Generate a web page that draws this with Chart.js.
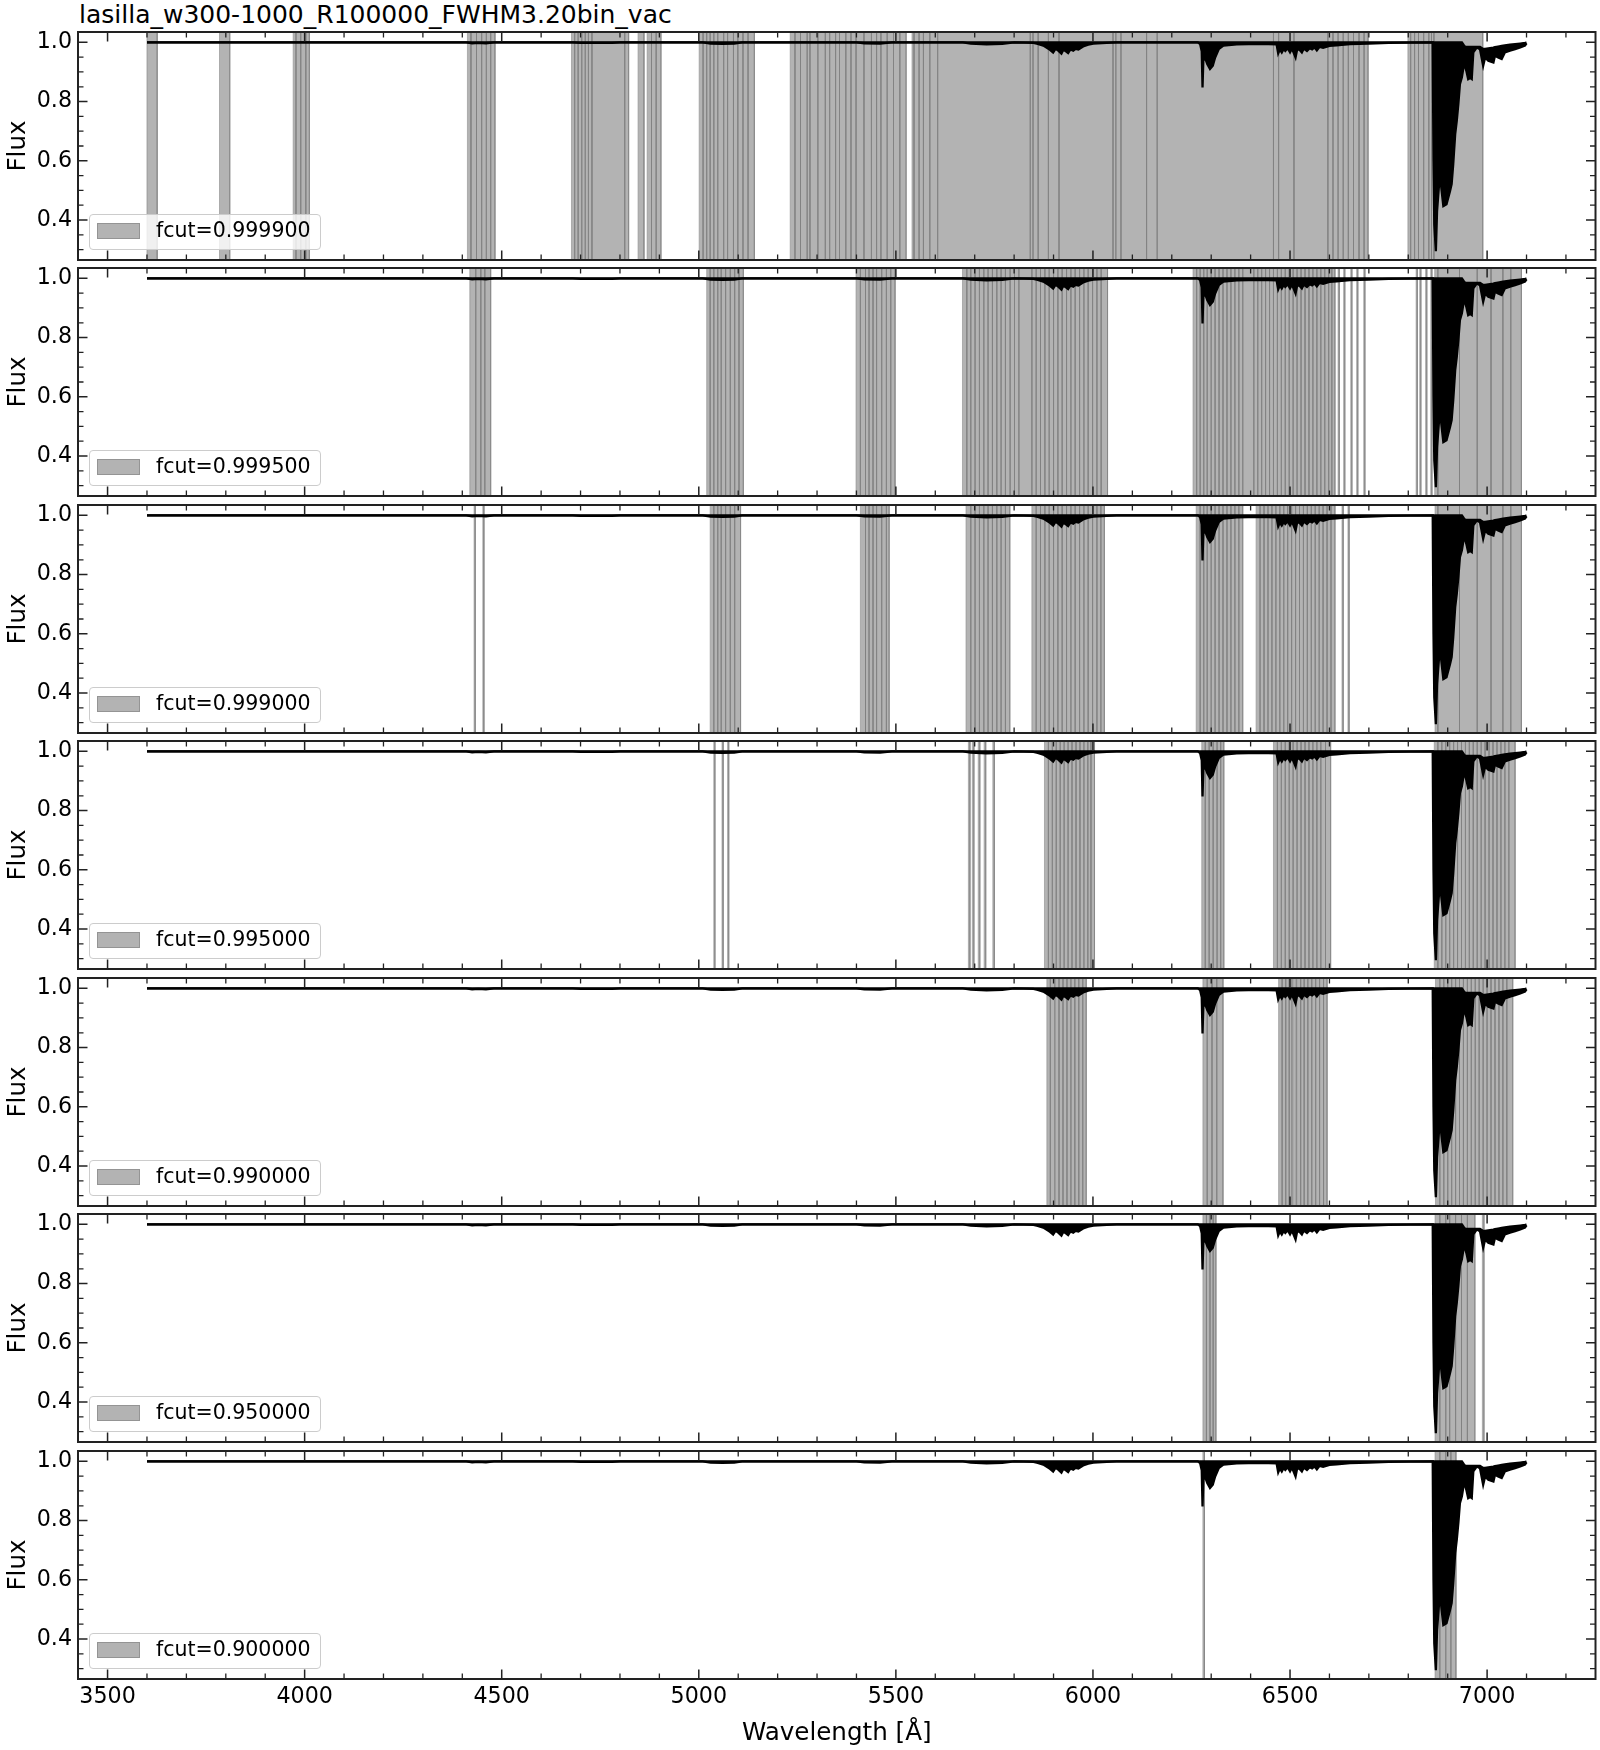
<!DOCTYPE html>
<html><head><meta charset="utf-8">
<script src="https://cdn.jsdelivr.net/npm/chart.js@4.4.0/dist/chart.umd.min.js"></script>
<style>
html,body{margin:0;padding:0;background:#fff;}
#wrap{position:relative;width:1600px;height:1750px;overflow:hidden;font-family:'DejaVu Sans',sans-serif;}
canvas{position:absolute;left:0;}
.title{position:absolute;left:79px;top:2px;font-size:25px;line-height:25px;color:#000;white-space:nowrap;}
.legend{position:absolute;left:89px;width:232px;height:36px;box-sizing:border-box;border:1px solid #cccccc;border-radius:4px;background:rgba(255,255,255,0.8);}
.legend .patch{position:absolute;left:7px;top:7.5px;width:43px;height:16px;box-sizing:border-box;background:rgba(128,128,128,0.6);border:1px solid rgba(128,128,128,0.6);}
.legend .lab{position:absolute;left:66px;top:-2px;height:34px;line-height:34px;font-size:20.5px;color:#000;white-space:nowrap;}
</style></head><body><div id="wrap"><div class="title">lasilla_w300-1000_R100000_FWHM3.20bin_vac</div></div>
<script>
// ---------------- data ----------------
const xMin = 3425, xMax = 7275, yMin = 0.265, yMax = 1.035;
const xTickLabels = [3500, 4000, 4500, 5000, 5500, 6000, 6500, 7000];
const yTickLabels = [0.4, 0.6, 0.8, 1.0];
const fcutLabels = ['fcut=0.999900','fcut=0.999500','fcut=0.999000','fcut=0.995000','fcut=0.990000','fcut=0.950000','fcut=0.900000'];

// telluric spectrum: wavelength [Å], lower envelope, upper envelope of the flux
const specWave = [3600,4410,4425,4440,4460,4480,4680,4700,4740,4780,4800,5010,5030,5060,5090,5110,5400,5420,5460,5490,5670,5690,5730,5770,5800,5849,5860,5874,5885,5891,5899,5905,5912,5920,5925,5929,5937,5943,5950,5956,5963,5975,5988,6001,6035,6060,6266,6272,6276,6278,6280,6284,6290,6297,6304,6310,6319,6331,6365,6424,6466,6470,6474,6479,6484,6488,6494,6500,6505,6514,6518,6524,6530,6535,6543,6550,6556,6562,6568,6575,6584,6600,6618,6652,6700,6750,6862,6864,6866,6870,6873,6880,6889,6897,6906,6910,6914,6919,6923,6927,6931,6936,6940,6944,6948,6952,6957,6961,6965,6974,6982,6990,6995,7003,7016,7020,7028,7037,7045,7058,7071,7084,7096,7100];
const specLow  = [1.0,1.0,0.997,0.998,0.997,1.0,1.0,0.998,0.998,0.998,1.0,1.0,0.996,0.995,0.996,1.0,1.0,0.997,0.996,1.0,1.0,0.996,0.993,0.995,1.0,0.998,0.995,0.989,0.98,0.975,0.966,0.978,0.972,0.962,0.975,0.972,0.964,0.976,0.972,0.978,0.976,0.986,0.992,0.996,0.998,1.0,1.0,0.994,0.97,0.848,0.938,0.949,0.927,0.91,0.921,0.949,0.977,0.989,0.993,0.995,0.993,0.963,0.976,0.966,0.978,0.971,0.98,0.966,0.979,0.949,0.976,0.975,0.966,0.979,0.971,0.98,0.976,0.983,0.973,0.985,0.982,0.988,0.99,0.994,0.996,0.998,1.0,0.6,0.385,0.295,0.43,0.554,0.447,0.453,0.498,0.521,0.588,0.69,0.735,0.791,0.859,0.882,0.915,0.921,0.9,0.876,0.88,0.876,0.966,0.983,0.977,0.921,0.949,0.938,0.932,0.955,0.949,0.944,0.966,0.972,0.977,0.983,0.989,0.997];
const specHigh = [1.0,1.0,1.0,1.0,1.0,1.0,1.0,1.0,1.0,1.0,1.0,1.0,1.0,1.0,1.0,1.0,1.0,1.0,1.0,1.0,1.0,1.0,1.0,1.0,1.0,1.0,1.0,1.0,1.0,1.0,1.0,1.0,1.0,1.0,1.0,1.0,1.0,1.0,1.0,1.0,1.0,1.0,1.0,1.0,1.0,1.0,1.0,1.0,1.0,1.0,1.0,1.0,1.0,1.0,1.0,1.0,1.0,1.0,1.0,1.0,1.0,1.0,1.0,1.0,1.0,1.0,1.0,1.0,1.0,1.0,1.0,1.0,1.0,1.0,1.0,1.0,1.0,1.0,1.0,1.0,1.0,1.0,1.0,1.0,1.0,1.0,1.0,1.0,1.0,1.0,1.0,1.0,1.0,1.0,1.0,1.0,1.0,1.0,1.0,1.0,1.0,1.0,0.992,0.985,0.985,0.985,0.985,0.985,0.985,0.985,0.985,0.978,0.978,0.98,0.982,0.984,0.986,0.988,0.99,0.992,0.994,0.996,0.998,0.999];

// masked wavelength intervals [start, end] for each flux cut
const spans_0999900 = [[3600,3626],[3784,3810],[3971,3978],[3978,3990],[3990,4003],[4003,4012],
 [4413,4422],[4422,4436],[4436,4449],[4449,4461],[4461,4472],[4472,4483],
 [4677,4685],[4685,4694],[4694,4703],[4703,4712],[4712,4720],[4720,4729],[4729,4812],[4812,4822],
 [4846,4861],[4869,4880],[4880,4892],[4892,4904],
 [5001,5011],[5011,5020],[5020,5029],[5029,5038],[5038,5048],[5048,5063],[5063,5073],[5073,5088],[5088,5099],[5099,5112],[5112,5125],[5125,5141],
 [5232,5244],[5244,5258],[5258,5275],[5275,5282],[5282,5302],[5302,5321],[5321,5332],[5332,5347],[5347,5357],[5357,5373],[5373,5386],[5386,5399],[5399,5419],[5419,5438],[5438,5451],[5451,5462],[5462,5478],[5478,5494],[5494,5510],[5510,5526],
 [5541,5546],[5546,5559],[5559,5570],[5570,5586],[5586,5606],[5606,5841],[5841,5848],[5848,5861],[5861,5887],[5887,5914],[5914,6051],[6051,6058],[6058,6071],[6071,6136],[6136,6163],[6163,6458],[6458,6471],[6471,6510],[6510,6596],[6596,6609],[6609,6622],[6622,6635],[6635,6648],[6648,6661],[6661,6675],[6675,6688],[6688,6698],
 [6799,6806],[6806,6816],[6816,6826],[6826,6839],[6839,6852],[6852,6859],[6859,6865],[6865,6989]];
const spans_0999500 = [[4419,4434],[4434,4447],[4447,4457],[4457,4472],
 [5020,5029],[5029,5038],[5038,5048],[5048,5057],[5057,5068],[5068,5080],[5080,5091],[5091,5102],[5102,5113],
 [5399,5410],[5410,5423],[5423,5432],[5432,5442],[5442,5451],[5451,5464],[5464,5476],[5476,5487],[5487,5498],
 [5669,5680],[5680,5690],[5690,5701],[5701,5712],[5712,5723],[5723,5734],[5734,5745],[5745,5756],[5756,5767],[5767,5778],[5778,5790],[5790,5801],[5801,5812],[5812,5845],
 [5845,5856],[5856,5867],[5867,5878],[5878,5889],[5889,5900],[5900,5911],[5911,5922],[5922,5933],[5933,5944],[5944,5955],[5955,5966],[5966,5977],[5977,5988],[5988,5999],[5999,6010],[6010,6021],[6021,6037],
 [6254,6263],[6263,6272],[6272,6281],[6281,6290],[6290,6300],[6300,6310],[6310,6320],[6320,6330],[6330,6340],[6340,6350],[6350,6360],[6360,6370],[6370,6380],[6380,6408],
 [6408,6418],[6418,6428],[6428,6438],[6438,6448],[6448,6458],[6458,6468],[6468,6478],[6478,6488],[6488,6498],[6498,6508],[6508,6518],[6518,6528],[6528,6538],[6538,6548],[6548,6558],[6558,6568],[6568,6578],[6578,6588],[6588,6598],[6598,6606],[6606,6614],
 [6622,6625],[6636,6639],[6654,6657],[6669,6672],[6687,6690],
 [6820,6823],[6829,6832],[6844,6847],[6857,6860],[6867,6875],[6875,6930],[6930,6975],[6975,7010],[7010,7040],[7040,7060],[7060,7087]];
const spans_0999000 = [[4430,4433],[4452,4455],
 [5029,5038],[5038,5048],[5048,5057],[5057,5068],[5068,5080],[5080,5091],[5091,5106],
 [5410,5423],[5423,5432],[5432,5442],[5442,5451],[5451,5464],[5464,5476],[5476,5483],
 [5678,5690],[5690,5701],[5701,5712],[5712,5723],[5723,5734],[5734,5745],[5745,5756],[5756,5767],[5767,5778],[5778,5789],
 [5845,5856],[5856,5867],[5867,5878],[5878,5889],[5889,5900],[5900,5911],[5911,5922],[5922,5933],[5933,5944],[5944,5955],[5955,5966],[5966,5977],[5977,5988],[5988,5999],[5999,6010],[6010,6020],[6020,6029],
 [6262,6272],[6272,6281],[6281,6290],[6290,6300],[6300,6310],[6310,6320],[6320,6330],[6330,6340],[6340,6350],[6350,6360],[6360,6370],[6370,6380],
 [6414,6424],[6424,6434],[6434,6444],[6444,6454],[6454,6464],[6464,6474],[6474,6484],[6484,6494],[6494,6504],[6504,6514],[6514,6524],[6524,6534],[6534,6544],[6544,6554],[6554,6564],[6564,6574],[6574,6584],[6584,6594],[6594,6604],[6604,6614],
 [6632,6635],[6647,6650],
 [6868,6875],[6875,6930],[6930,6975],[6975,7010],[7010,7040],[7040,7060],[7060,7087]];
const spans_0995000 = [[5038,5041],[5059,5062],[5073,5076],
 [5684,5688],[5694,5698],[5709,5713],[5724,5728],[5746,5750],
 [5877,5887],[5887,5897],[5897,5907],[5907,5917],[5917,5927],[5927,5937],[5937,5947],[5947,5957],[5957,5967],[5967,5977],[5977,5987],[5987,5995],[5995,6004],
 [6276,6285],[6285,6295],[6295,6305],[6305,6315],[6315,6324],[6324,6332],
 [6458,6468],[6468,6478],[6478,6488],[6488,6498],[6498,6508],[6508,6518],[6518,6528],[6528,6538],[6538,6548],[6548,6558],[6558,6568],[6568,6578],[6578,6590],[6590,6603],
 [6866,6875],[6875,6885],[6885,6895],[6895,6905],[6905,6915],[6915,6925],[6925,6935],[6935,6945],[6945,6955],[6955,6965],[6965,6975],[6975,6985],[6985,6995],[6995,7005],[7005,7015],[7015,7025],[7025,7035],[7035,7045],[7045,7055],[7055,7071]];
const spans_0990000 = [[5883,5892],[5892,5903],[5905,5914],[5914,5924],[5924,5934],[5934,5944],[5944,5954],[5954,5964],[5964,5974],[5974,5983],
 [6279,6290],[6290,6302],[6302,6314],[6314,6330],
 [6471,6480],[6480,6489],[6489,6498],[6498,6505],[6507,6516],[6518,6527],[6527,6536],[6536,6545],[6545,6555],[6555,6565],[6565,6575],[6575,6585],[6585,6594],
 [6869,6880],[6880,6890],[6890,6900],[6900,6910],[6910,6920],[6920,6930],[6930,6940],[6940,6950],[6950,6960],[6960,6970],[6970,6980],[6980,6990],[6990,7000],[7000,7010],[7010,7020],[7020,7030],[7030,7040],[7040,7050],[7050,7065]];
const spans_0950000 = [[6279,6288],[6288,6297],[6297,6305],[6305,6312],
 [6868,6880],[6880,6895],[6895,6905],[6905,6920],[6920,6935],[6935,6950],[6950,6969],[6988,6992]];
const spans_0900000 = [[6279,6283],[6868,6880],[6880,6895],[6895,6908],[6908,6921]];
const panelSpans = [spans_0999900, spans_0999500, spans_0999000, spans_0995000, spans_0990000, spans_0950000, spans_0900000];

// ---------------- layout ----------------
const panelTops = [32, 268, 505, 741, 978, 1214, 1451];
const AREA_H = 228, PAD_TOP = 12, AXIS_W = 78, PAD_RIGHT = 4.5;

Chart.defaults.font.family = "'DejaVu Sans', sans-serif";
Chart.defaults.color = '#000';

const frameTicks = {
  id: 'frameTicks',
  afterDatasetsDraw(chart) {
    const {ctx, chartArea: a, scales: {x, y}} = chart;
    ctx.save();
    ctx.strokeStyle = '#222';
    const xt = (v, len, w) => {
      const p = x.getPixelForValue(v);
      ctx.lineWidth = w; ctx.beginPath();
      ctx.moveTo(p, a.bottom); ctx.lineTo(p, a.bottom - len);
      ctx.moveTo(p, a.top); ctx.lineTo(p, a.top + len);
      ctx.stroke();
    };
    const yt = (v, len, w) => {
      const p = y.getPixelForValue(v);
      ctx.lineWidth = w; ctx.beginPath();
      ctx.moveTo(a.left, p); ctx.lineTo(a.left + len, p);
      ctx.moveTo(a.right, p); ctx.lineTo(a.right - len, p);
      ctx.stroke();
    };
    for (let k = 35; k <= 72; k++) { if (k % 5 !== 0) xt(k * 100, 5.5, 1.3); }
    xTickLabels.forEach(v => xt(v, 9.5, 1.5));
    for (let k = 6; k <= 20; k++) { if (k % 4 !== 0) yt(k * 0.05, 5.5, 1.3); }
    yTickLabels.forEach(v => yt(v, 9.5, 1.5));
    ctx.lineWidth = 2;
    ctx.strokeRect(a.left, a.top, a.right - a.left, a.bottom - a.top);
    ctx.restore();
  }
};

function spanPoints(spans) {
  const pts = [];
  for (const [a, b] of spans) {
    pts.push({x: a, y: -1}, {x: a, y: 2}, {x: b, y: 2}, {x: b, y: -1}, {x: b, y: null});
  }
  return pts;
}

const wrap = document.getElementById('wrap');
panelTops.forEach((top, i) => {
  const isLast = i === panelTops.length - 1;
  const cTop = top - PAD_TOP;
  const cH = isLast ? 1750 - cTop : PAD_TOP + AREA_H + 12;
  const xAxisH = cH - PAD_TOP - AREA_H;
  const cv = document.createElement('canvas');
  cv.width = 1600; cv.height = cH;
  cv.style.top = cTop + 'px'; cv.style.width = '1600px'; cv.style.height = cH + 'px';
  wrap.appendChild(cv);

  new Chart(cv.getContext('2d'), {
    type: 'line',
    data: {
      datasets: [
        { label: 'flux lower', data: specWave.map((w, k) => ({x: w, y: specLow[k]})),
          borderColor: '#000', backgroundColor: '#000', borderWidth: 2.3, fill: '+1', pointRadius: 0, tension: 0, order: 0 },
        { label: 'flux upper', data: specWave.map((w, k) => ({x: w, y: specHigh[k]})),
          borderColor: '#000', borderWidth: 2.3, fill: false, pointRadius: 0, tension: 0, order: 1 },
        { label: fcutLabels[i], data: spanPoints(panelSpans[i]),
          borderColor: 'rgba(128,128,128,0.6)', backgroundColor: 'rgba(128,128,128,0.6)', borderWidth: 1,
          fill: 'start', pointRadius: 0, tension: 0, spanGaps: false, order: 2 }
      ]
    },
    options: {
      responsive: false, animation: false, devicePixelRatio: 1, events: [],
      layout: { padding: { top: PAD_TOP, right: PAD_RIGHT, left: 0, bottom: 0 } },
      plugins: { legend: { display: false }, tooltip: { enabled: false } },
      scales: {
        x: {
          type: 'linear', min: xMin, max: xMax, position: 'bottom',
          grid: { display: false, drawTicks: false }, border: { display: false },
          ticks: { display: isLast, font: { size: 22.2 }, color: '#000', padding: 5, maxRotation: 0, autoSkip: false,
                   callback: v => String(v) },
          afterBuildTicks: s => { s.ticks = xTickLabels.map(v => ({value: v})); },
          title: { display: isLast, text: 'Wavelength [Å]', font: { size: 24.6 }, color: '#000', padding: { top: 0, bottom: 1.2 } },
          afterFit: s => { s.height = xAxisH; s.paddingLeft = 0; s.paddingRight = 0; }
        },
        y: {
          type: 'linear', min: yMin, max: yMax, position: 'left',
          grid: { display: false, drawTicks: false }, border: { display: false },
          ticks: { font: { size: 22.2 }, color: '#000', padding: 6, callback: v => Number(v).toFixed(1) },
          afterBuildTicks: s => { s.ticks = yTickLabels.map(v => ({value: v})); },
          title: { display: true, text: 'Flux', font: { size: 24.6 }, color: '#000', padding: { top: 3.5, bottom: 0 } },
          afterFit: s => { s.width = AXIS_W; s.paddingTop = 0; s.paddingBottom = 0; }
        }
      }
    },
    plugins: [frameTicks]
  });

  const lg = document.createElement('div');
  lg.className = 'legend';
  lg.style.top = (top + AREA_H - 9.6 - 36) + 'px';
  lg.innerHTML = '<div class="patch"></div><div class="lab"></div>';
  lg.querySelector('.lab').textContent = fcutLabels[i];
  wrap.appendChild(lg);
});
</script></body></html>
